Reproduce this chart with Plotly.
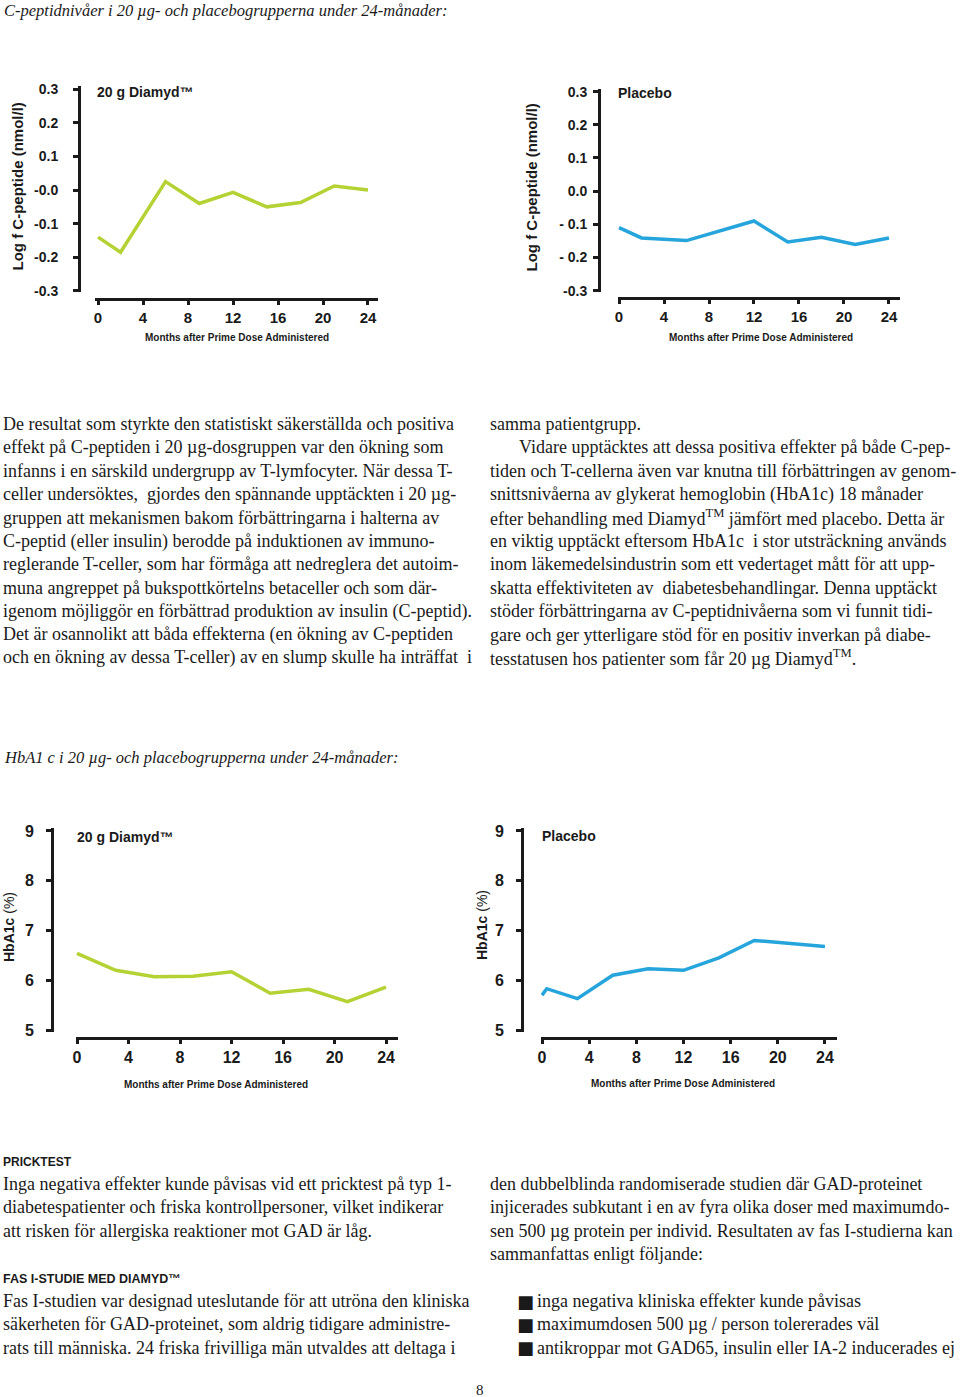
import plotly.graph_objects as go

W, H = 960, 1397

# ---------------- data ----------------
cpep_diamyd_months = [0, 2, 6, 9, 12, 15, 18, 21, 24]
cpep_diamyd_values = [-0.14, -0.185, 0.025, -0.04, -0.007, -0.05, -0.037, 0.012, 0.0]
cpep_placebo_months = [0, 2, 6, 12, 15, 18, 21, 24]
cpep_placebo_values = [-0.11, -0.141, -0.149, -0.09, -0.153, -0.139, -0.161, -0.141]
hba1c_diamyd_months = [0, 3, 6, 9, 12, 15, 18, 21, 24]
hba1c_diamyd_values = [6.54, 6.2, 6.07, 6.08, 6.17, 5.74, 5.82, 5.57, 5.86]
hba1c_placebo_months = [0, 0.4, 3, 6, 9, 12, 15, 18, 24]
hba1c_placebo_values = [5.7, 5.83, 5.63, 6.1, 6.23, 6.2, 6.45, 6.8, 6.68]

month_ticks = [0, 4, 8, 12, 16, 20, 24]
cpep_ticks = [-0.3, -0.2, -0.1, 0, 0.1, 0.2, 0.3]
cpep_ticktext_diamyd = ["-0.3", "-0.2", "-0.1", "-0.0", "0.1", "0.2", "0.3"]
cpep_ticktext_placebo = ["-0.3", "- 0.2", "- 0.1", "0.0", "0.1", "0.2", "0.3"]
hba1c_ticks = [5, 6, 7, 8, 9]
hba1c_ticktext = ["5", "6", "7", "8", "9"]

title_diamyd = "20 g Diamyd™"
title_placebo = "Placebo"
x_title = "Months after Prime Dose Administered"
cpep_y_title = "Log f C-peptide (nmol/l)"
hba1c_y_title = "<b>HbA1c</b> (%)"

heading_cpep = "C-peptidnivåer i 20 µg- och placebogrupperna under 24-månader:"
heading_hba1c = "HbA1 c i 20 µg- och placebogrupperna under 24-månader:"

left_col_1 = [
    "De resultat som styrkte den statistiskt säkerställda och positiva",
    "effekt på C-peptiden i 20 µg-dosgruppen var den ökning som",
    "infanns i en särskild undergrupp av T-lymfocyter. När dessa T-",
    "celler undersöktes,  gjordes den spännande upptäckten i 20 µg-",
    "gruppen att mekanismen bakom förbättringarna i halterna av",
    "C-peptid (eller insulin) berodde på induktionen av immuno-",
    "reglerande T-celler, som har förmåga att nedreglera det autoim-",
    "muna angreppet på bukspottkörtelns betaceller och som där-",
    "igenom möjliggör en förbättrad produktion av insulin (C-peptid).",
    "Det är osannolikt att båda effekterna (en ökning av C-peptiden",
    "och en ökning av dessa T-celler) av en slump skulle ha inträffat  i",
]
right_col_1 = [
    "samma patientgrupp.",
    "Vidare upptäcktes att dessa positiva effekter på både C-pep-",
    "tiden och T-cellerna även var knutna till förbättringen av genom-",
    "snittsnivåerna av glykerat hemoglobin (HbA1c) 18 månader",
    "efter behandling med Diamyd<sup>TM</sup> jämfört med placebo. Detta är",
    "en viktig upptäckt eftersom HbA1c  i stor utsträckning används",
    "inom läkemedelsindustrin som ett vedertaget mått för att upp-",
    "skatta effektiviteten av  diabetesbehandlingar. Denna upptäckt",
    "stöder förbättringarna av C-peptidnivåerna som vi funnit tidi-",
    "gare och ger ytterligare stöd för en positiv inverkan på diabe-",
    "tesstatusen hos patienter som får 20 µg Diamyd<sup>TM</sup>.",
]
heading_prick = "PRICKTEST"
prick_lines = [
    "Inga negativa effekter kunde påvisas vid ett pricktest på typ 1-",
    "diabetespatienter och friska kontrollpersoner, vilket indikerar",
    "att risken för allergiska reaktioner mot GAD är låg.",
]
heading_fas = "FAS I-STUDIE MED DIAMYD™"
fas_lines = [
    "Fas I-studien var designad uteslutande för att utröna den kliniska",
    "säkerheten för GAD-proteinet, som aldrig tidigare administre-",
    "rats till människa. 24 friska frivilliga män utvaldes att deltaga i",
]
right_col_2 = [
    "den dubbelblinda randomiserade studien där GAD-proteinet",
    "injicerades subkutant i en av fyra olika doser med maximumdo-",
    "sen 500 µg protein per individ. Resultaten av fas I-studierna kan",
    "sammanfattas enligt följande:",
]
bullets = [
    "inga negativa kliniska effekter kunde påvisas",
    "maximumdosen 500 µg / person tolererades väl",
    "antikroppar mot GAD65, insulin eller IA-2 inducerades ej",
]
page_number = "8"

GREEN = "#b4d234"
BLUE = "#25a5dc"
INK = "#1a1a1a"
SANS = "Liberation Sans"
SERIF = "Liberation Serif"


def fx(p):
    return p / W


def fy(p):
    return 1 - p / H


panels = [
    dict(months=cpep_diamyd_months, values=cpep_diamyd_values, color=GREEN,
         xdom=(95, 378), xr=(-0.27, 24.89), xline=299,
         ydom=(86, 292), yr=(-0.303, 0.309), yline=79,
         yticks=cpep_ticks, ytext=cpep_ticktext_diamyd, ystand=12, ytfs=14, xtfs=15,
         title=title_diamyd, title_xy=(95, 92), xt_xy=(237, 338),
         yt=cpep_y_title, yt_xy=(17.5, 187), yt_fs=15),
    dict(months=cpep_placebo_months, values=cpep_placebo_values, color=BLUE,
         xdom=(618, 900), xr=(-0.09, 24.98), xline=298,
         ydom=(89, 292), yr=(-0.304, 0.308), yline=599,
         yticks=cpep_ticks, ytext=cpep_ticktext_placebo, ystand=3, ytfs=14, xtfs=15,
         title=title_placebo, title_xy=(616, 93), xt_xy=(761, 338),
         yt=cpep_y_title, yt_xy=(531, 187.5), yt_fs=15),
    dict(months=hba1c_diamyd_months, values=hba1c_diamyd_values, color=GREEN,
         xdom=(76, 398), xr=(-0.08, 24.93), xline=1038,
         ydom=(828, 1032), yr=(4.96, 9.06), yline=52,
         yticks=hba1c_ticks, ytext=hba1c_ticktext, ystand=9, ytfs=16, xtfs=16,
         title=title_diamyd, title_xy=(75, 837), xt_xy=(216, 1084),
         yt=hba1c_y_title, yt_xy=(9, 927), yt_fs=14),
    dict(months=hba1c_placebo_months, values=hba1c_placebo_values, color=BLUE,
         xdom=(541, 837), xr=(-0.085, 25.02), xline=1038,
         ydom=(828, 1032), yr=(4.96, 9.06), yline=522,
         yticks=hba1c_ticks, ytext=hba1c_ticktext, ystand=9, ytfs=16, xtfs=16,
         title=title_placebo, title_xy=(540, 836), xt_xy=(683, 1083),
         yt=hba1c_y_title, yt_xy=(482, 925), yt_fs=14),
]

fig = go.Figure()
layout = dict(
    width=W, height=H, margin=dict(l=0, r=0, t=0, b=0, autoexpand=False),
    paper_bgcolor="white", plot_bgcolor="rgba(0,0,0,0)",
    showlegend=False, font=dict(family=SANS, color=INK),
)
annotations = []

for i, p in enumerate(panels):
    n = "" if i == 0 else str(i + 1)
    fig.add_trace(go.Scatter(
        x=p["months"], y=p["values"], mode="lines",
        line=dict(color=p["color"], width=3.5),
        xaxis="x" + n, yaxis="y" + n, hoverinfo="skip"))
    layout["xaxis" + n] = dict(
        domain=[fx(p["xdom"][0]), fx(p["xdom"][1])], range=list(p["xr"]),
        anchor="free", position=fy(p["xline"]), automargin=False,
        showline=True, linewidth=3, linecolor=INK,
        ticks="outside", ticklen=4, tickwidth=3, tickcolor=INK,
        tickvals=month_ticks, ticktext=[str(m) for m in month_ticks],
        tickfont=dict(family=SANS, size=p["xtfs"], weight="bold", color=INK),
        showgrid=False, zeroline=False, fixedrange=True,
    )
    layout["yaxis" + n] = dict(
        domain=[fy(p["ydom"][1]), fy(p["ydom"][0])], range=list(p["yr"]),
        anchor="free", position=fx(p["yline"]), automargin=False,
        showline=True, linewidth=3, linecolor=INK,
        ticks="outside", ticklen=5, tickwidth=3, tickcolor=INK,
        tickvals=p["yticks"], ticktext=p["ytext"], ticklabelstandoff=p["ystand"],
        tickfont=dict(family=SANS, size=p["ytfs"], weight="bold", color=INK),
        showgrid=False, zeroline=False, fixedrange=True,
    )
    annotations.append(dict(
        text=p["title"], x=fx(p["title_xy"][0]), y=fy(p["title_xy"][1]),
        xref="paper", yref="paper", xanchor="left", yanchor="middle", showarrow=False,
        font=dict(family=SANS, size=14, weight="bold", color=INK)))
    annotations.append(dict(
        text=x_title, x=fx(p["xt_xy"][0]), y=fy(p["xt_xy"][1]),
        xref="paper", yref="paper", xanchor="center", yanchor="middle", showarrow=False,
        font=dict(family=SANS, size=10, weight="bold", color=INK)))
    annotations.append(dict(
        text=p["yt"], x=fx(p["yt_xy"][0]), y=fy(p["yt_xy"][1]), textangle=-90,
        xref="paper", yref="paper", xanchor="center", yanchor="middle", showarrow=False,
        font=dict(family=SANS, size=p["yt_fs"], weight="bold" if i < 2 else "normal",
                  color=INK)))


def text_line(txt, x, y, size=18, family=SERIF, style="normal", weight="normal",
              xanchor="left"):
    annotations.append(dict(
        text=txt, x=fx(x), y=fy(y), xref="paper", yref="paper",
        xanchor=xanchor, yanchor="middle", showarrow=False,
        font=dict(family=family, size=size, style=style, weight=weight, color=INK)))


LS = 23.4
text_line(heading_cpep, 2, 10, size=16.5, style="italic")
text_line(heading_hba1c, 2, 757, size=16.5, style="italic")

for k, t in enumerate(left_col_1):
    text_line(t, 1, 424 + k * LS)
for k, t in enumerate(right_col_1):
    text_line(t, 517 if k == 1 else 488, 424 + k * LS)

text_line(heading_prick, 1, 1162, size=12, family=SANS, weight="bold")
for k, t in enumerate(prick_lines):
    text_line(t, 1, 1184 + k * LS)
text_line(heading_fas, 1, 1279, size=12.5, family=SANS, weight="bold")
for k, t in enumerate(fas_lines):
    text_line(t, 1, 1301 + k * LS)
for k, t in enumerate(right_col_2):
    text_line(t, 488, 1184 + k * LS)
for k, t in enumerate(bullets):
    text_line("■", 515, 1301 + k * LS, size=18, family="DejaVu Sans")
    text_line(t, 535, 1301 + k * LS)
text_line(page_number, 480, 1390, size=15, xanchor="center")

layout["annotations"] = annotations
fig.update_layout(**layout)
fig.write_html("out.html", config={"displayModeBar": False},
               post_script=["document.body.style.margin='0px';"
                            "document.body.style.overflow='hidden';"])
